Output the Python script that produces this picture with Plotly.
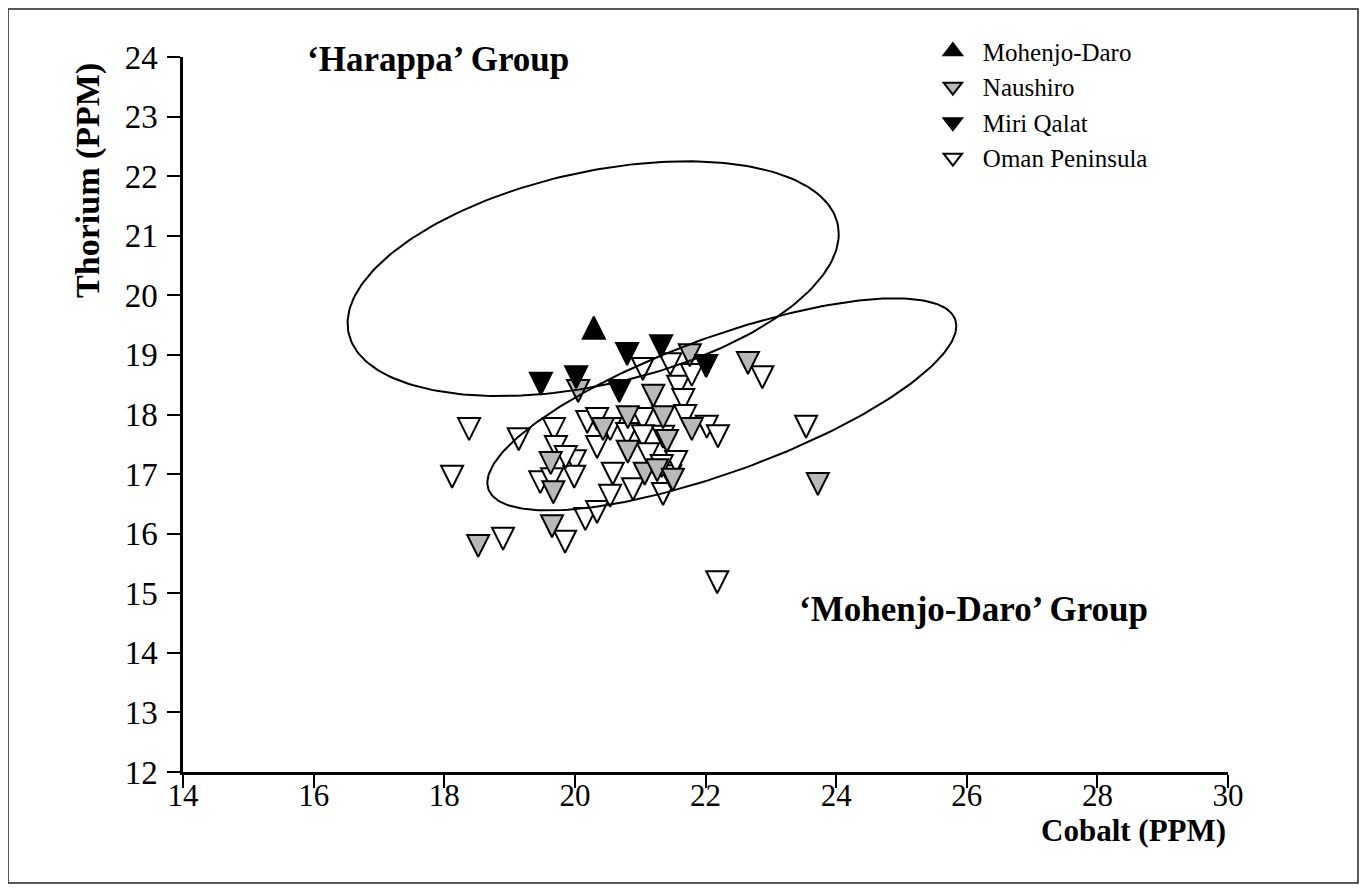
import numpy as np
import plotly.graph_objects as go

# ---------------- data ----------------
# Cobalt (PPM) on x, Thorium (PPM) on y; values give the triangle tip position
mohenjo_x = [20.29]
mohenjo_y = [19.64]

miri_x = [19.48, 20.02, 20.80, 21.32, 20.68, 22.01]
miri_y = [18.33, 18.44, 18.83, 18.96, 18.21, 18.63]

naushiro_x = [18.52, 19.65, 19.63, 19.67, 20.05, 20.43, 20.81, 20.81, 21.20,
              21.35, 21.41, 21.07, 21.26, 21.50, 21.76, 21.79, 22.65, 23.72]
naushiro_y = [15.61, 15.94, 17.00, 16.51, 18.21, 17.57, 17.77, 17.19, 18.13,
              17.77, 17.37, 16.82, 16.88, 16.72, 18.81, 17.57, 18.68, 16.65]

oman_x = [18.38, 18.12, 19.14, 18.90, 19.47, 19.68, 19.71, 19.65, 20.00, 19.99,
          20.19, 20.34, 20.34, 19.85, 20.16, 20.34, 20.54, 20.58, 20.54, 20.80,
          20.89, 21.04, 21.04, 21.04, 21.12, 21.35, 21.35, 21.46, 21.46, 21.55,
          21.58, 21.66, 21.69, 21.79, 22.02, 22.19, 22.87, 23.54, 22.18, 21.33,
          19.86]
oman_y = [17.57, 16.77, 17.40, 15.73, 16.68, 17.57, 17.27, 16.73, 17.03, 16.77,
          17.69, 17.74, 17.27, 15.68, 16.06, 16.18, 17.57, 16.82, 16.45, 17.49,
          16.56, 18.58, 17.74, 17.45, 17.15, 17.44, 16.48, 18.66, 16.78, 17.02,
          18.28, 18.06, 17.79, 18.48, 17.61, 17.45, 18.44, 17.61, 15.00, 16.95,
          17.10]

series_names = ["Mohenjo-Daro", "Naushiro", "Miri Qalat", "Oman Peninsula"]

x_ticks = [14, 16, 18, 20, 22, 24, 26, 28, 30]
y_ticks = list(range(12, 25))

# group ellipses: centre, half-extent in x and y, phase between the two
harappa_ell = dict(cx=20.28, cy=20.28, ax=3.76, ay=1.97, phase=1.18)
mohenjo_ell = dict(cx=22.25, cy=18.17, ax=3.59, ay=1.78, phase=0.74)

# ---------------- styling ----------------
FONT = "Liberation Serif"
GRAY = "#b9b9b9"
MSIZE = 22
LINE_W = 2


def ellipse(p, n=240):
    t = np.linspace(0, 2 * np.pi, n)
    return p["cx"] + p["ax"] * np.cos(t), p["cy"] + p["ay"] * np.cos(t - p["phase"])


fig = go.Figure()

down_marker = lambda fill: dict(symbol="arrow-down", size=MSIZE, color=fill,
                                line=dict(color="black", width=LINE_W))

fig.add_trace(go.Scatter(x=oman_x, y=oman_y, mode="markers", showlegend=False,
                         marker=down_marker("white"), name=series_names[3]))
fig.add_trace(go.Scatter(x=naushiro_x, y=naushiro_y, mode="markers", showlegend=False,
                         marker=down_marker(GRAY), name=series_names[1]))
fig.add_trace(go.Scatter(x=miri_x, y=miri_y, mode="markers", showlegend=False,
                         marker=down_marker("black"), name=series_names[2]))
fig.add_trace(go.Scatter(x=mohenjo_x, y=mohenjo_y, mode="markers", showlegend=False,
                         marker=dict(symbol="arrow-up", size=MSIZE, color="black",
                                     line=dict(color="black", width=LINE_W)),
                         name=series_names[0]))

for p in (harappa_ell, mohenjo_ell):
    ex, ey = ellipse(p)
    fig.add_trace(go.Scatter(x=ex, y=ey, mode="lines", showlegend=False,
                             hoverinfo="skip", line=dict(color="black", width=2)))

# legend entries
legend_styles = [
    ("triangle-up", "black"),
    ("triangle-down", GRAY),
    ("triangle-down", "black"),
    ("triangle-down", "white"),
]
for name, (sym, fill) in zip(series_names, legend_styles):
    fig.add_trace(go.Scatter(x=[None], y=[None], mode="markers", name=name,
                             marker=dict(symbol=sym, size=16, color=fill,
                                         line=dict(color="black", width=2))))

axis_common = dict(showline=True, linecolor="black", linewidth=2.5,
                   ticks="outside", ticklen=13, tickwidth=2, tickcolor="black",
                   showgrid=False, zeroline=False)

fig.update_xaxes(range=[14, 30], tickvals=x_ticks, ticklabelstandoff=-19,
                 tickfont=dict(family=FONT, size=31, color="black"), **axis_common)
fig.update_yaxes(range=[12, 24], tickvals=y_ticks, ticklabelstandoff=3,
                 tickfont=dict(family=FONT, size=33, color="black"), **axis_common)

fig.update_layout(
    width=1351, height=876, autosize=False,
    margin=dict(l=175, r=131, t=49, b=112),
    paper_bgcolor="white", plot_bgcolor="white",
    font=dict(family=FONT, color="black"),
    legend=dict(x=0.708, y=1.04, xanchor="left", yanchor="top",
                font=dict(family=FONT, size=25, color="black"),
                bgcolor="rgba(0,0,0,0)", itemwidth=50, tracegroupgap=0),
    annotations=[
        dict(text="<b>Thorium (PPM)</b>", textangle=-90, xref="paper", yref="paper",
             x=-0.091, y=0.828, xanchor="center", yanchor="middle", showarrow=False,
             font=dict(family=FONT, size=34, color="black")),
        dict(text="<b>Cobalt (PPM)</b>", xref="paper", yref="paper",
             x=1.0, y=-0.082, xanchor="right", yanchor="middle", showarrow=False,
             font=dict(family=FONT, size=31, color="black")),
        dict(text="<b>\u2018Harappa\u2019 Group</b>", xref="paper", yref="paper",
             x=0.1167, y=0.996, xanchor="left", yanchor="middle", showarrow=False,
             font=dict(family=FONT, size=35, color="black")),
        dict(text="<b>\u2018Mohenjo-Daro\u2019 Group</b>", xref="paper", yref="paper",
             x=0.5876, y=0.2266, xanchor="left", yanchor="middle", showarrow=False,
             font=dict(family=FONT, size=35, color="black")),
    ],
    shapes=[dict(type="rect", xref="paper", yref="paper",
                 x0=-175 / 1045, x1=(1351 - 175 - 1) / 1045,
                 y0=-111 / 715, y1=1 + 48 / 715,
                 line=dict(color="#222", width=1.5))],
)

fig.write_html("out.html")
